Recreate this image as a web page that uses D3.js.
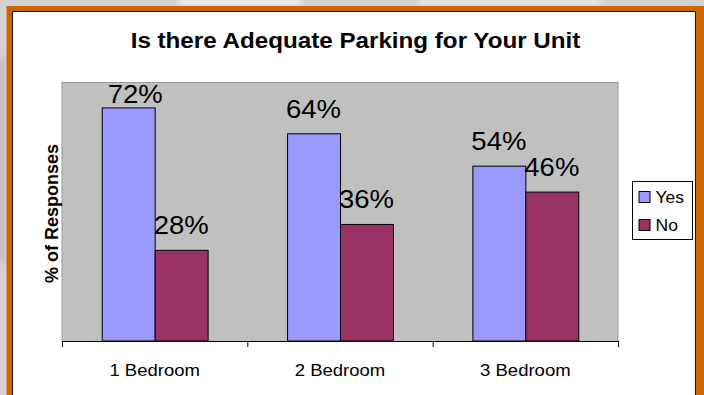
<!DOCTYPE html>
<html>
<head>
<meta charset="utf-8">
<script src="https://cdn.jsdelivr.net/npm/d3@7"></script>
<style>
  html, body { margin: 0; padding: 0; background: #d6d4d2; }
  svg { display: block; }
  text { font-family: Arial, "Liberation Sans", sans-serif; fill: #000; }
</style>
</head>
<body>
<svg id="chart" width="704" height="395"></svg>
<script>
// Survey results: share of responses per unit size
const categories = ["1 Bedroom", "2 Bedroom", "3 Bedroom"];
const seriesNames = ["Yes", "No"];
const yesValues = [72, 64, 54];
const noValues = [28, 36, 46];
const seriesColors = ["#9999FF", "#993366"];
const chartTitle = "Is there Adequate Parking for Your Unit";
const yAxisTitle = "% of Responses";

const W = 704, H = 395;
const svg = d3.select("#chart");

// Backdrop behind the framed slide
const defs = svg.append("defs");
const blur = defs.append("filter").attr("id", "soft").attr("x", "-20%").attr("y", "-20%").attr("width", "140%").attr("height", "140%");
blur.append("feGaussianBlur").attr("stdDeviation", 3);
svg.append("rect").attr("width", W).attr("height", H).attr("fill", "#d4d2d0");
const haze = svg.append("g").attr("filter", "url(#soft)");
haze.append("rect").attr("x", 180).attr("y", -4).attr("width", 120).attr("height", 9).attr("fill", "#f2f2f2");
haze.append("rect").attr("x", 420).attr("y", -4).attr("width", 180).attr("height", 8).attr("fill", "#ececec");
haze.append("rect").attr("x", -4).attr("y", 60).attr("width", 8).attr("height", 200).attr("fill", "#bdb9b6");

// Orange frame with a dark inner rule and white card
svg.append("rect").attr("x", 6.5).attr("y", 6).attr("width", 710).attr("height", 400).attr("fill", "#CC6600");
svg.append("rect").attr("x", 12.5).attr("y", 11.5).attr("width", 683).attr("height", 400)
  .attr("fill", "#ffffff").attr("stroke", "#111").attr("stroke-width", 1);

// Plot geometry
const plot = { left: 62, right: 618, top: 82, bottom: 341 };
const stretch = 1.1; // text is drawn slightly wide

const x0 = d3.scaleBand().domain(categories).range([plot.left, plot.right]).padding(0);
const x1 = d3.scaleBand().domain(seriesNames).range([0, x0.bandwidth()])
  .paddingInner(0).paddingOuter(0.75);
const y = d3.scaleLinear().domain([0, 80]).range([plot.bottom, plot.top]);
const color = d3.scaleOrdinal().domain(seriesNames).range(seriesColors);

// Plot area
svg.append("rect")
  .attr("x", plot.left).attr("y", plot.top + 0.5)
  .attr("width", plot.right - plot.left).attr("height", plot.bottom - plot.top)
  .attr("fill", "#C0C0C0").attr("stroke", "#9a9a9a").attr("stroke-width", 1);

// helper: text stretched horizontally about its anchor
function wideText(g, x, y, str, size, anchor, weight, sx) {
  return g.append("text")
    .attr("transform", `translate(${x},${y}) scale(${sx || stretch},1)`)
    .attr("text-anchor", anchor)
    .style("font-size", size + "px")
    .style("font-weight", weight || "normal")
    .text(str);
}

// Title
wideText(svg, 355.5, 48.3, chartTitle, 22, "middle", "bold");

// Bars
const rows = categories.map((c, i) => ({ cat: c, values: [
  { key: "Yes", value: yesValues[i] },
  { key: "No", value: noValues[i] }
]}));

const groups = svg.selectAll("g.cat").data(rows).join("g")
  .attr("class", "cat")
  .attr("transform", d => `translate(${x0(d.cat)},0)`);

groups.selectAll("rect").data(d => d.values).join("rect")
  .attr("x", d => x1(d.key) + 0.5)
  .attr("y", d => y(d.value))
  .attr("width", x1.bandwidth())
  .attr("height", d => plot.bottom - y(d.value))
  .attr("fill", d => color(d.key))
  .attr("stroke", "#000").attr("stroke-width", 1);

// Value labels above bars, kept inside the plot area
const labelGap = 16, labelMin = plot.top + 21;
groups.each(function(d) {
  const g = d3.select(this);
  d.values.forEach(v => {
    let ly = y(v.value) - labelGap;
    let lx = x1(v.key) + x1.bandwidth() / 2;
    if (ly < labelMin) { ly = labelMin; lx += 7; }
    wideText(g, lx, ly, v.value + "%", 25, "middle");
  });
});

// Category axis
const axis = svg.append("g").attr("transform", `translate(0,${plot.bottom})`);
axis.append("line").attr("x1", plot.left).attr("x2", plot.right).attr("y1", 0.5).attr("y2", 0.5)
  .attr("stroke", "#000").attr("stroke-width", 1.2);
const tickXs = categories.map(c => x0(c)).concat([plot.right]);
axis.selectAll("line.tick").data(tickXs).join("line").attr("class", "tick")
  .attr("x1", d => d + 0.5).attr("x2", d => d + 0.5).attr("y1", 0).attr("y2", 6)
  .attr("stroke", "#000");
categories.forEach(c => wideText(svg, x0(c) + x0.bandwidth() / 2, 376, c, 17, "middle", "normal", 1.09));

// Y axis title
svg.append("text")
  .attr("transform", `translate(58.3,${(plot.top + plot.bottom) / 2 + 2}) rotate(-90)`)
  .attr("text-anchor", "middle")
  .style("font-size", "18px").style("font-weight", "bold")
  .text(yAxisTitle);

// Legend
const legend = svg.append("g").attr("transform", "translate(632.5,181.5)");
legend.append("rect").attr("width", 60).attr("height", 58)
  .attr("fill", "#fff").attr("stroke", "#000").attr("stroke-width", 1);
seriesNames.forEach((s, i) => {
  const ly = 10 + i * 28;
  legend.append("rect").attr("x", 6.5).attr("y", ly).attr("width", 11).attr("height", 11)
    .attr("fill", color(s)).attr("stroke", "#000").attr("stroke-width", 1);
  wideText(legend, 23, ly + 11.2, s, 16.5, "start", "normal", 1.06);
});
</script>
</body>
</html>
